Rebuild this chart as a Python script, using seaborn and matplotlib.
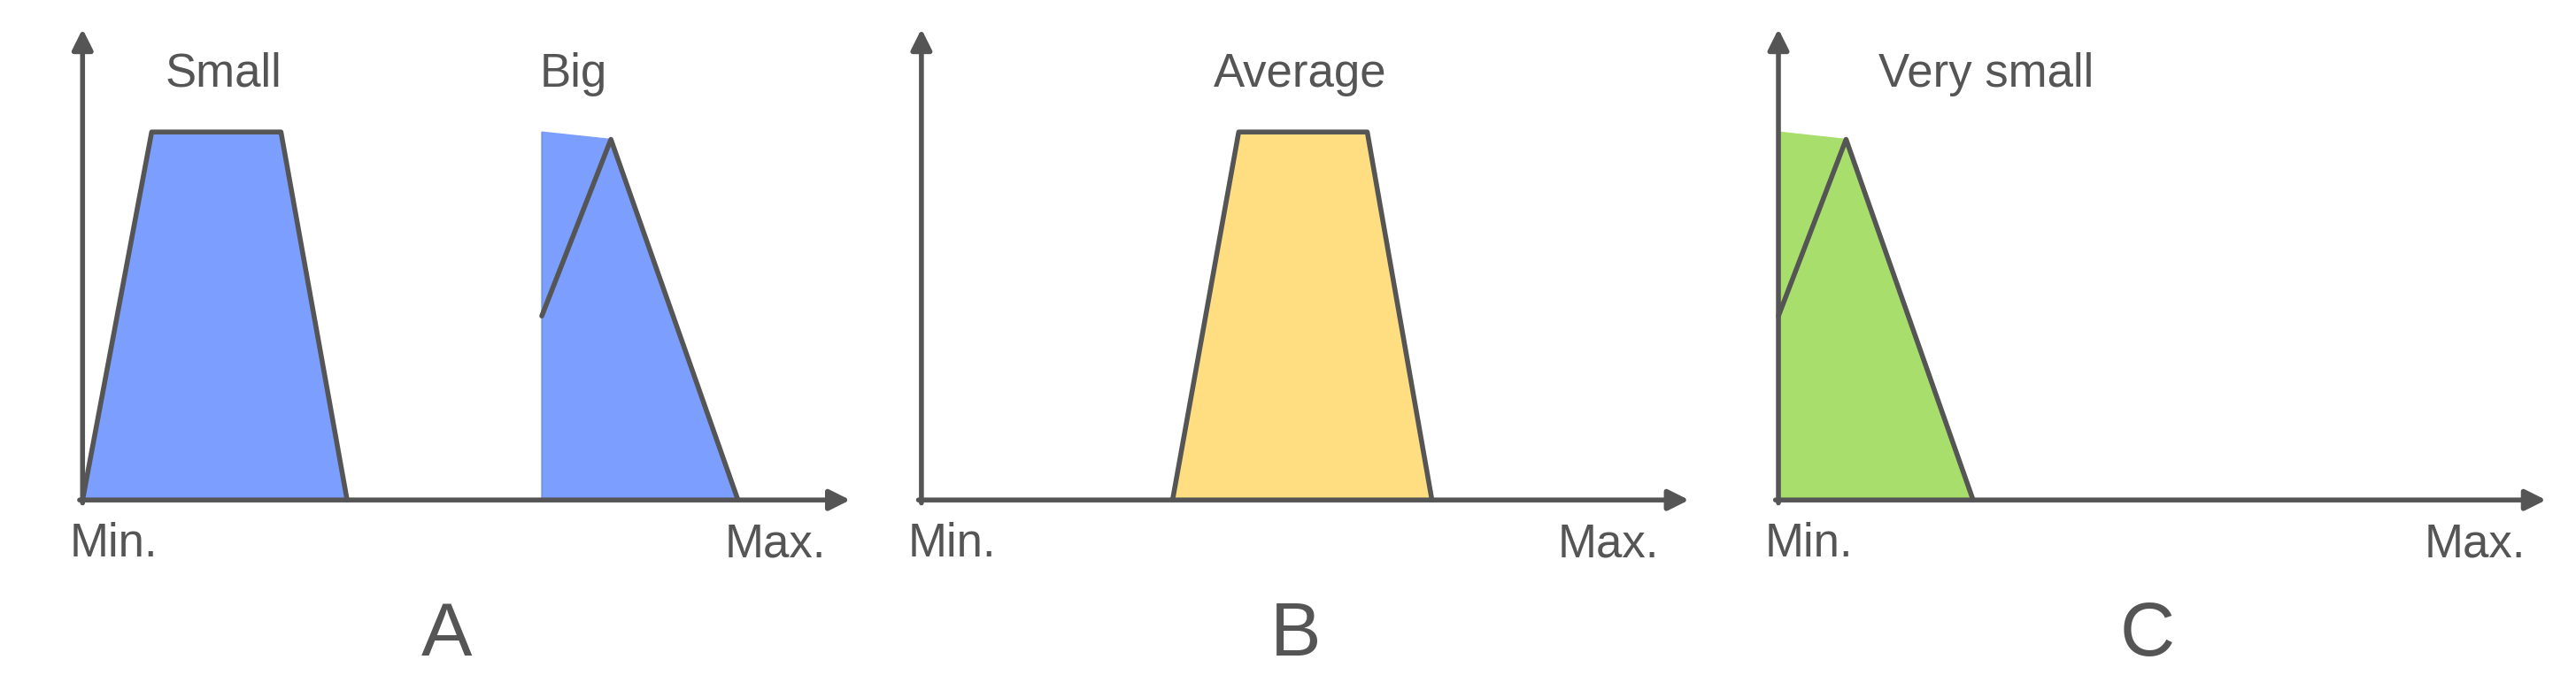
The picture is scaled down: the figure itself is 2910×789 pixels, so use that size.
import matplotlib
matplotlib.use("Agg")
import matplotlib.pyplot as plt
import seaborn as sns
import pandas as pd

sns.set_style("white")
plt.rcParams["font.family"] = ["Liberation Sans", "DejaVu Sans"]

# shapes: x as fraction of the Min..Max axis, y as fraction of full height
small_x = [0.0, 0.093, 0.267, 0.356]
small_y = [0.0, 1.0, 1.0, 0.0]
big_x = [0.618, 0.618, 0.711, 0.882]
big_y = [0.0, 1.0, 0.98, 0.0]
avg_x = [0.338, 0.427, 0.600, 0.687]
avg_y = [0.0, 1.0, 1.0, 0.0]
vsmall_x = [0.0, 0.0, 0.091, 0.262]
vsmall_y = [0.0, 1.0, 0.98, 0.0]

panels = [
    ("A", 50, [("Small", small_x, small_y, 0.19, "#7b9eff"),
               ("Big", big_x, big_y, 0.66, "#7b9eff")], 0.49, 1.0),
    ("B", 558, [("Average", avg_x, avg_y, 0.51, "#ffde82")], 0.504, 0.993),
    ("C", 1077, [("Very small", vsmall_x, vsmall_y, 0.28, "#a8de6c")], 0.496, 1.005),
]

edge = "#555555"
W, H = 1560, 423
fig = plt.figure(figsize=(29.1, 7.89), dpi=100)

for letter, ox, shapes, letter_x, max_x in panels:
    ax = fig.add_axes([(ox - 45) / W, (H - 403.35) / H, 540 / W, 401.4 / H])
    ax.set_xlim(-0.1, 1.1)
    ax.set_ylim(-0.45, 1.35)
    ax.axis("off")
    for name, xs, ys, tx, col in shapes:
        ax.fill(xs, ys, color=col, zorder=1)
        df = pd.DataFrame({"x": xs, "y": ys})
        sns.lineplot(data=df, x="x", y="y", sort=False, color=edge, lw=4,
                     ax=ax, zorder=2)
        ax.text(tx, 1.157, name, ha="center", va="center", fontsize=38, color=edge)
    # axes arrows
    ax.annotate("", xy=(1.033, 0), xytext=(-0.004, 0),
                arrowprops=dict(arrowstyle="-|>,head_length=1.4,head_width=0.7",
                                color=edge, lw=4, shrinkA=0, shrinkB=0), zorder=3)
    ax.annotate("", xy=(0, 1.28), xytext=(0, -0.008),
                arrowprops=dict(arrowstyle="-|>,head_length=1.4,head_width=0.7",
                                color=edge, lw=4, shrinkA=0, shrinkB=0), zorder=3)
    ax.text(-0.018, -0.12, "Min.", ha="left", va="center", fontsize=38, color=edge)
    ax.text(max_x, -0.12, "Max.", ha="right", va="center", fontsize=38, color=edge)
    ax.text(letter_x, -0.37, letter, ha="center", va="center", fontsize=62, color=edge)

fig.savefig("out.png", dpi=100, facecolor="white")
